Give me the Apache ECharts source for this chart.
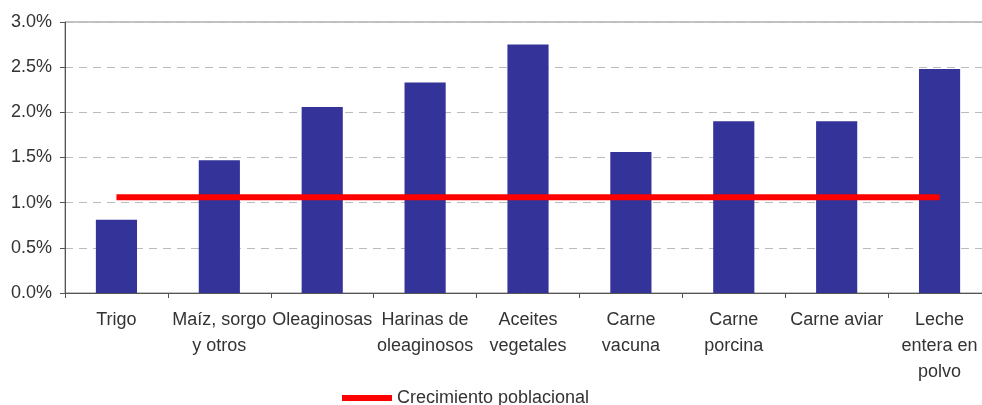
<!DOCTYPE html>
<html>
<head>
<meta charset="utf-8">
<script src="https://cdn.jsdelivr.net/npm/echarts@6/dist/echarts.min.js"></script>
<style>
  html, body { margin: 0; padding: 0; background: #fff; }
  #chart { width: 982px; height: 405px; }
</style>
</head>
<body>
<div id="chart"></div>
<script>
// categorias (con salto de linea como en el original)
var categories = ['Trigo', 'Maíz, sorgo\ny otros', 'Oleaginosas', 'Harinas de\noleaginosos',
  'Aceites\nvegetales', 'Carne\nvacuna', 'Carne\nporcina', 'Carne aviar', 'Leche\nentera en\npolvo'];
// crecimiento de la demanda, %
var demanda = [0.81, 1.47, 2.06, 2.33, 2.75, 1.56, 1.90, 1.90, 2.48];
// crecimiento poblacional, %
var poblacion = [1.06, 1.06, 1.06, 1.06, 1.06, 1.06, 1.06, 1.06, 1.06];

var font = 'Liberation Sans, Arial, sans-serif';
var chart = echarts.init(document.getElementById('chart'));
chart.setOption({
  animation: false,
  grid: {
    left: 65, top: 22, width: 926, height: 271,
    outerBoundsMode: 'none', containLabel: false,
    show: true, borderColor: '#888', borderWidth: 1
  },
  legend: {
    data: ['Crecimiento poblacional'],
    left: 337, top: 384,
    itemWidth: 50, itemHeight: 6, itemGap: 5,
    icon: 'rect',
    textStyle: { fontFamily: font, fontSize: 18, color: '#333' }
  },
  xAxis: {
    type: 'category',
    data: categories,
    axisLine: { lineStyle: { color: '#555' } },
    axisTick: { show: true, length: 5, lineStyle: { color: '#555' } },
    axisLabel: {
      interval: 0, margin: 14, lineHeight: 26,
      fontFamily: font, fontSize: 18, color: '#333'
    }
  },
  yAxis: {
    type: 'value',
    min: 0, max: 3, interval: 0.5,
    axisLine: { show: true, lineStyle: { color: '#555' } },
    axisTick: { show: true, length: 5, lineStyle: { color: '#555' } },
    axisLabel: {
      margin: 13, fontFamily: font, fontSize: 18, color: '#333',
      formatter: function (v) { return v.toFixed(1) + '%'; }
    },
    splitLine: { lineStyle: { color: '#bbb', type: [8, 6] } }
  },
  series: [
    {
      name: 'Demanda',
      type: 'bar',
      data: demanda,
      barWidth: '40%',
      itemStyle: { color: '#333399' }
    },
    {
      name: 'Crecimiento poblacional',
      type: 'line',
      data: poblacion,
      symbol: 'none',
      z: 5,
      lineStyle: { color: '#ff0000', width: 6 },
      itemStyle: { color: '#ff0000' }
    }
  ]
});
</script>
</body>
</html>
